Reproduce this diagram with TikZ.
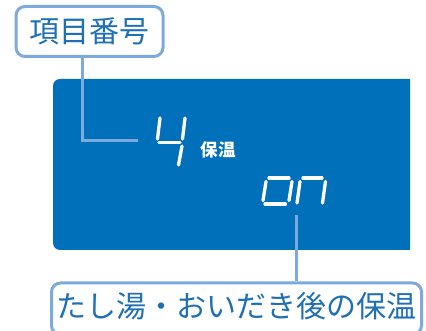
\documentclass[tikz,border=0pt]{standalone}
\usepackage{fontspec}
\setmainfont{Noto Sans CJK JP}
\usepackage{tikz}
\usepackage{xcolor}
\definecolor{panelblue}{HTML}{0070BA}
\definecolor{framblue}{HTML}{7DAADC}
\definecolor{textblue}{HTML}{1F6FB6}

\begin{document}
\begin{tikzpicture}[x=1pt,y=1pt,line cap=round,
  callout/.style={draw=framblue,line width=3pt,rounded corners=9pt,fill=white,
    text=textblue,font=\fontsize{30}{33}\selectfont,inner sep=4pt},
  leader/.style={draw=framblue,line width=3pt,line cap=butt},
  seg/.style={white,line width=3.3pt}]
\useasboundingbox (0,0) rectangle (426,331);
\begin{scope}
\clip (0,0) rectangle (426,331);
% display panel
\fill[panelblue] (410,252) [rounded corners=7pt] -- (53,252) -- (53,81) [sharp corners] -- (410,81) -- cycle;
% digit 4
\draw[seg] (160,213) -- (157.5,192);
\draw[seg] (159,188.5) -- (180,188.5);
\draw[seg] (185,213) -- (182.5,192);
\draw[seg] (182,185) -- (178.5,166);
\node[white,font=\fontsize{17.5}{19}\selectfont\bfseries] (mode) at (218,181) {保温};
% on
\draw[seg] (269,153) -- (289,153);
\draw[seg] (266,149.5) -- (263,130.5);
\draw[seg] (265,127) -- (285.5,127);
\draw[seg] (292,149.5) -- (289,130.5);
\draw[seg] (303,153) -- (322,153);
\draw[seg] (300,149.5) -- (297,128);
\draw[seg] (325.5,149.5) -- (322.5,128);
% callouts
\node[callout,minimum width=147pt,minimum height=50pt] (numlbl) at (89.5,299.5) {項目番号};
\node[callout,anchor=north,minimum width=370pt,text height=30.5pt,text depth=13pt] (modelbl) at (236.5,49.5) {たし湯・おいだき後の保温};
\coordinate (numtop) at ([xshift=-7.5pt]numlbl.south);
\coordinate (numend) at (138,190);
\coordinate (onend) at (296,116);
\draw[leader] (numtop) |- (numend);
\draw[leader] (onend) -- (onend |- modelbl.north);
\end{scope}
\end{tikzpicture}
\end{document}
